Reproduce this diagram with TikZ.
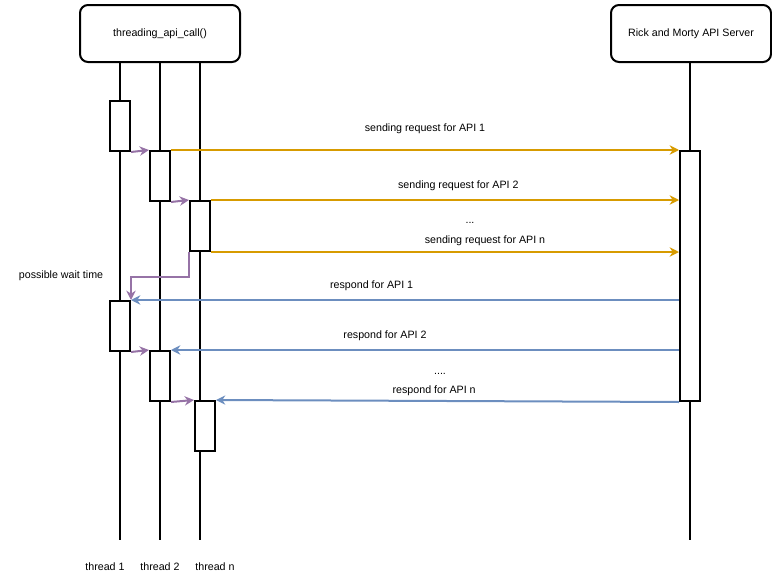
\documentclass[tikz,border=0pt]{standalone}
\usepackage{fontspec}
\setmainfont{Liberation Sans}
\usetikzlibrary{arrows.meta, positioning}
\definecolor{reqcol}{HTML}{D79B00}
\definecolor{rescol}{HTML}{6C8EBF}
\definecolor{waitcol}{HTML}{9673A6}

\begin{document}
\begin{tikzpicture}[x=0.75pt,y=-0.75pt,font=\fontsize{8}{9}\selectfont,
    actor/.style={draw, line width=1.5pt, rounded corners=6pt, minimum width=120pt, minimum height=42.75pt},
    life/.style={line width=1.5pt},
    bar/.style={draw, line width=1.5pt, fill=white, minimum width=15pt, minimum height=37.5pt, inner sep=0pt},
    req/.style={reqcol, line width=1.5pt, -{Stealth[length=7pt,width=7pt]}},
    res/.style={rescol, line width=1.5pt, -{Stealth[length=7pt,width=7pt]}},
    hop/.style={waitcol, line width=1.5pt, -{Stealth[length=7pt,width=7pt]}}]
    \useasboundingbox (0,0) rectangle (772,582);

    \node[actor] (caller) at (160,33.5) {threading\_api\_call()};
    \node[actor] (server) at (691,33.5) {Rick and Morty API Server};

    \coordinate (t1top) at (120,62);  \coordinate (t1bot) at (120,540);
    \coordinate (t2top) at (160,62);  \coordinate (t2bot) at (160,540);
    \coordinate (tntop) at (200,62);  \coordinate (tnbot) at (200,540);
    \coordinate (svtop) at (690,62);  \coordinate (svbot) at (690,540);
    \draw[life] (t1top) -- (t1bot);
    \draw[life] (t2top) -- (t2bot);
    \draw[life] (tntop) -- (tnbot);
    \draw[life] (svtop) -- (svbot);

    \node (l1) at (105,567) {thread 1};
    \node (l2) at (160,567) {thread 2};
    \node (ln) at (215,567) {thread n};

    % activations
    \node[bar] (a1) at (120,126) {};
    \node[bar] (a2) at (160,176) {};
    \node[bar] (an) at (200,226) {};
    \node[bar, minimum height=187.5pt] (sv) at (690,276) {};
    \node[bar] (b1) at (120,326) {};
    \node[bar] (b2) at (160,376) {};
    \node[bar] (bn) at (205,426) {};

    % hand-over between threads
    \draw[hop] (a1.south east) -- (a2.north west);
    \draw[hop] (a2.south east) -- (an.north west);
    \draw[hop] (an.south west) -- ++(0,25) -| (b1.north east);
    \node (wait) at (61,276) {possible wait time};
    \draw[hop] (b1.south east) -- (b2.north west);
    \draw[hop] (b2.south east) -- (bn.north west);

    % requests
    \draw[req] (a2.north east) -- node[above=8pt, black] {sending request for API 1} (sv.north west);
    \draw[req] (an.north east) -- node[above=3pt, black, xshift=10pt] {sending request for API 2} (sv.west |- an.north);
    \draw[req] (an.south east) -- node[above=1pt, black, xshift=30pt] {sending request for API n} (sv.west |- an.south);
    \node (dots1) at (470,223) {...};

    % responses
    \draw[res] (sv.west |- b1.north) -- node[above=3pt, black, xshift=-25pt] {respond for API 1} (b1.north east);
    \draw[res] (sv.west |- b2.north) -- node[above=3pt, black, xshift=-30pt] {respond for API 2} (b2.north east);
    \draw[res] (sv.south west) -- node[above=0pt, black, xshift=-10pt] {respond for API n} (bn.north east);
    \node (dots2) at (440,374) {....};
\end{tikzpicture}
\end{document}
